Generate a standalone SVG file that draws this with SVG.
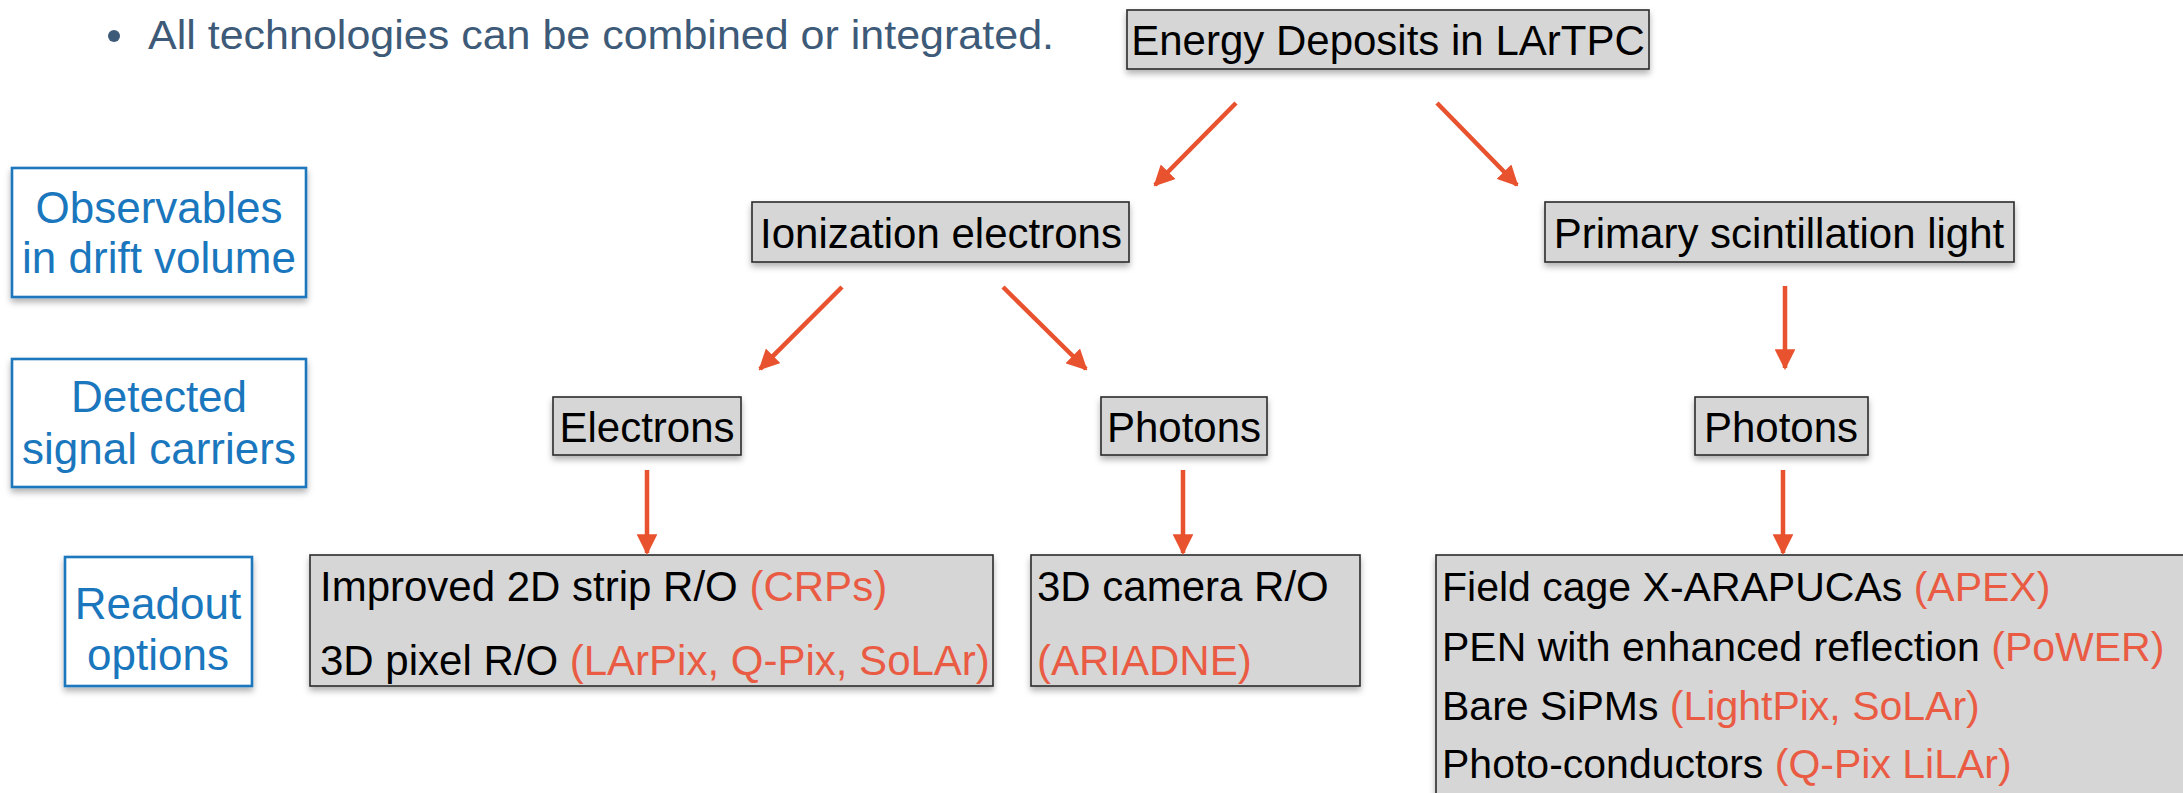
<svg xmlns="http://www.w3.org/2000/svg" width="2183" height="793" viewBox="0 0 2183 793">
<defs>
<style>
.box{fill:#d6d6d6;stroke:#2b2b2b;stroke-width:1.6;filter:url(#sh)}
.lbl{fill:#ffffff;stroke:#1a77bd;stroke-width:2.6;filter:url(#sh)}
.t{font-family:"Liberation Sans",Arial,sans-serif;font-size:42px;fill:#000}
.s{font-size:41px}
.c{text-anchor:middle}
.b{font-family:"Liberation Sans",Arial,sans-serif;font-size:44px;fill:#1a77bd;text-anchor:middle}
.r{fill:#ea5b43}
.arr{stroke:#e8522f;stroke-width:4.5;fill:none;marker-end:url(#ah)}
</style>
<filter id="sh" x="-10%" y="-20%" width="120%" height="150%">
<feDropShadow dx="0" dy="4" stdDeviation="3" flood-color="#000" flood-opacity="0.3"/>
</filter>
<marker id="ah" viewBox="0 0 10 10" refX="9" refY="5" markerWidth="4.6" markerHeight="4.6" markerUnits="strokeWidth" orient="auto">
<path d="M0,0 L10,5 L0,10 z" fill="#e8522f"/>
</marker>
</defs>
<rect width="2183" height="793" fill="#fff"/>

<g id="bullet">
<circle cx="114" cy="36" r="6" fill="#3d5a78"/>
<text x="148" y="49" font-family="'Liberation Sans',Arial,sans-serif" font-size="40" fill="#3d5a78" textLength="906" lengthAdjust="spacingAndGlyphs">All technologies can be combined or integrated.</text>
</g>

<g id="observables">
<rect class="lbl" x="12" y="168" width="294" height="129"/>
<text class="b" x="159" y="223">Observables</text>
<text class="b" x="159" y="273">in drift volume</text>
</g>
<g id="detected">
<rect class="lbl" x="12" y="359" width="294" height="128"/>
<text class="b" x="159" y="412">Detected</text>
<text class="b" x="159" y="464">signal carriers</text>
</g>
<g id="readout">
<rect class="lbl" x="65" y="557" width="187" height="129"/>
<text class="b" x="158" y="619">Readout</text>
<text class="b" x="158" y="670">options</text>
</g>

<g id="energy">
<rect class="box" x="1127" y="10" width="522" height="59"/>
<text class="t c" x="1388" y="55">Energy Deposits in LArTPC</text>
</g>
<g id="ionization">
<rect class="box" x="752" y="202" width="377" height="60"/>
<text class="t c" x="941" y="248">Ionization electrons</text>
</g>
<g id="primary">
<rect class="box" x="1545" y="202" width="469" height="60"/>
<text class="t c" x="1779" y="248">Primary scintillation light</text>
</g>
<g id="electrons">
<rect class="box" x="553" y="397" width="188" height="58"/>
<text class="t c" x="647" y="442">Electrons</text>
</g>
<g id="photons1">
<rect class="box" x="1101" y="397" width="166" height="58"/>
<text class="t c" x="1184" y="442">Photons</text>
</g>
<g id="photons2">
<rect class="box" x="1695" y="397" width="173" height="58"/>
<text class="t c" x="1781" y="442">Photons</text>
</g>
<g id="charge-readout">
<rect class="box" x="310" y="555" width="683" height="131"/>
<text class="t" x="320" y="601">Improved 2D strip R/O <tspan class="r">(CRPs)</tspan></text>
<text class="t" x="320" y="675">3D pixel R/O <tspan class="r">(LArPix, Q-Pix, SoLAr)</tspan></text>
</g>
<g id="camera-readout">
<rect class="box" x="1031" y="555" width="329" height="131"/>
<text class="t" x="1037" y="601">3D camera R/O</text>
<text class="t r" x="1037" y="675">(ARIADNE)</text>
</g>
<g id="light-readout">
<rect class="box" x="1436" y="555" width="780" height="260"/>
<text class="t s" x="1442" y="601">Field cage X-ARAPUCAs <tspan class="r">(APEX)</tspan></text>
<text class="t s" x="1442" y="661">PEN with enhanced reflection <tspan class="r">(PoWER)</tspan></text>
<text class="t s" x="1442" y="720">Bare SiPMs <tspan class="r">(LightPix, SoLAr)</tspan></text>
<text class="t s" x="1442" y="778">Photo-conductors <tspan class="r">(Q-Pix LiLAr)</tspan></text>
</g>

<g id="connectors">
<line class="arr" x1="1236" y1="103" x2="1155" y2="185"/>
<line class="arr" x1="1437" y1="103" x2="1517" y2="185"/>
<line class="arr" x1="842" y1="287" x2="760" y2="369"/>
<line class="arr" x1="1003" y1="287" x2="1086" y2="369"/>
<line class="arr" x1="1785" y1="286" x2="1785" y2="368"/>
<line class="arr" x1="647" y1="470" x2="647" y2="553"/>
<line class="arr" x1="1183" y1="470" x2="1183" y2="553"/>
<line class="arr" x1="1783" y1="470" x2="1783" y2="553"/>
</g>
</svg>
